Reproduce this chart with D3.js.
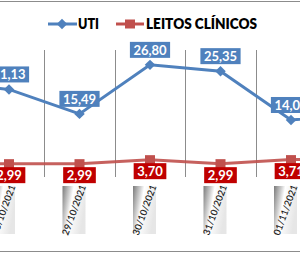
<!DOCTYPE html>
<html><head><meta charset="utf-8">
<script src="https://cdn.jsdelivr.net/npm/d3@7"></script>
<style>html,body{margin:0;padding:0;background:#fff;overflow:hidden}svg{display:block}</style>
</head><body>
<svg id="c" width="300" height="253"></svg>
<script>
const categories = ["27/10/2021","28/10/2021","29/10/2021","30/10/2021","31/10/2021","01/11/2021","02/11/2021"];
const uti = [23.0, 21.13, 15.49, 26.80, 25.35, 14.08, 15.5];
const leitos = [2.99, 2.99, 2.99, 3.70, 2.99, 3.71, 3.70];
const seriesNames = ["UTI", "LEITOS CLÍNICOS"];
const fmt = v => v.toFixed(2).replace(".", ",");

const svg = d3.select("#c");
const W = 300, H = 253;
const blue = "#4f81bd", red = "#c0504d", redBox = "#c00000";

const x = d3.scalePoint().domain(categories).range([-61.5, 361.5]);
const step = x.step();
const y = d3.scaleLinear().domain([0, 30]).range([181, 51]);
const y2 = d3.scaleLinear().domain([0, 23]).range([180.5, 51]);
const visible = (d,i) => x(categories[i]) > -30 && x(categories[i]) < W + 30;

const defs = svg.append("defs");
const g = defs.append("linearGradient").attr("id","dg").attr("x1","0").attr("y1","0").attr("x2","1").attr("y2","0.35");
g.append("stop").attr("offset","0").attr("stop-color","#7a7a7a");
g.append("stop").attr("offset","0.3").attr("stop-color","#d0d0d0");
g.append("stop").attr("offset","0.45").attr("stop-color","#ffffff");
g.append("stop").attr("offset","1").attr("stop-color","#e6e6e6");

// borders
svg.append("line").attr("x1",0).attr("x2",W).attr("y1",1.5).attr("y2",1.5).attr("stroke","#8c8c8c").attr("stroke-width",1);
svg.append("line").attr("x1",0).attr("x2",W).attr("y1",251.5).attr("y2",251.5).attr("stroke","#8c8c8c").attr("stroke-width",1);

// category separators
svg.append("g").selectAll("line").data(categories.slice(0,-1)).join("line")
  .attr("x1", d => Math.round(x(d) + step/2) + 0.5).attr("x2", d => Math.round(x(d) + step/2) + 0.5)
  .attr("y1", 50).attr("y2", 177).attr("stroke","#8c8c8c").attr("stroke-width",1);

// date labels
const dl = svg.append("g").selectAll("g").data(categories.filter(visible)).join("g")
  .attr("transform", d => `translate(${x(d) - 5.5},210)`);
dl.append("rect").attr("x",-11.5).attr("y",-24).attr("width",23).attr("height",48).attr("fill","url(#dg)");
dl.append("text").attr("transform","rotate(-70)").attr("text-anchor","middle").attr("dy","0.35em")
  .attr("font-family","Lato").attr("font-weight",600).attr("font-size",9.5).attr("fill","#1a1a1a")
  .text(d => d);

// lines
const lineB = d3.line().x((d,i) => x(categories[i])).y(d => y(d));
const lineR = d3.line().x((d,i) => x(categories[i])).y(d => y2(d));
svg.append("path").attr("d", lineR(leitos)).attr("fill","none").attr("stroke",red).attr("stroke-width",3).attr("stroke-opacity",0.9);
svg.append("path").attr("d", lineB(uti)).attr("fill","none").attr("stroke",blue).attr("stroke-width",3);

// markers
const diamond = d3.symbol().type(d3.symbolDiamond2).size(70);
svg.append("g").selectAll("path").data(uti).join("path")
  .attr("transform",(d,i)=>`translate(${x(categories[i])},${y(d)})`).attr("d", diamond()).attr("fill",blue);
svg.append("g").selectAll("rect").data(leitos).join("rect")
  .attr("x",(d,i)=>x(categories[i])-5).attr("y",d=>y2(d)-4.5).attr("width",10).attr("height",9).attr("fill",red);

// data labels
function labels(data, scale, fill, dyBox) {
  const items = data.map((v,i) => ({v, c: categories[i]})).filter((d,i) => visible(d,i));
  const lg = svg.append("g").selectAll("g").data(items).join("g")
    .attr("transform",d=>`translate(${x(d.c)},${scale(d.v)+dyBox})`);
  lg.append("text").attr("text-anchor","middle").attr("dy","0.36em")
    .attr("font-family","Lato").attr("font-weight",700).attr("font-size",13).attr("fill","#fff")
    .text(d => fmt(d.v));
  lg.each(function(){
    const gg = d3.select(this);
    const w = gg.select("text").node().getComputedTextLength();
    gg.insert("rect","text").attr("x",-w/2-3.5).attr("y",-8).attr("width",w+7).attr("height",16).attr("fill",fill);
  });
}
labels(uti, y, blue, -15);
labels(leitos, y2, redBox, 11.5);

// legend
const leg = svg.append("g");
leg.append("line").attr("x1",48).attr("x2",77).attr("y1",24).attr("y2",24).attr("stroke",blue).attr("stroke-width",3);
leg.append("path").attr("transform","translate(62,24)").attr("d",diamond()).attr("fill",blue);
leg.append("text").attr("x",78).attr("y",24).attr("dy","0.36em").attr("font-family","Lato").attr("font-weight",800)
  .attr("font-size",15).attr("textLength",21).attr("lengthAdjust","spacingAndGlyphs").attr("fill","#000").text(seriesNames[0]);
leg.append("line").attr("x1",116).attr("x2",144).attr("y1",24).attr("y2",24).attr("stroke",red).attr("stroke-width",3);
leg.append("rect").attr("x",125).attr("y",19.5).attr("width",10).attr("height",9).attr("fill",red);
leg.append("text").attr("x",146).attr("y",24).attr("dy","0.36em").attr("font-family","Lato").attr("font-weight",800)
  .attr("font-size",15).attr("textLength",111).attr("lengthAdjust","spacingAndGlyphs").attr("fill","#000").text(seriesNames[1]);
</script>
</body></html>
